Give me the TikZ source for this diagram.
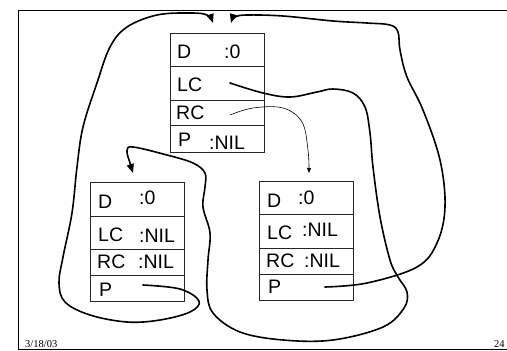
\documentclass[tikz,border=0pt]{standalone}
\usepackage{fontspec}
\setmainfont{Liberation Sans}
\newfontfamily\footfont{Liberation Serif}
\usetikzlibrary{arrows.meta,positioning}
\tikzset{
  field/.style={rectangle,draw=black!85,line width=0.8pt,minimum width=94pt,inner sep=0pt,anchor=north west},
  flabel/.style={anchor=base west,inner sep=0pt,font=\fontsize{19.5}{22}\selectfont},
  link/.style={-{Triangle[length=9pt,width=7pt]},line width=1.6pt,line cap=round,line join=round},
  thinlink/.style={-{Triangle[length=5pt,width=4pt]},line width=0.6pt},
  footnote/.style={anchor=base west,inner sep=0pt,font=\footfont\fontsize{10.5}{12}\selectfont}
}

\begin{document}
\begin{tikzpicture}[x=1pt,y=-1pt]
        \useasboundingbox (0,0) rectangle (507,351);
        % frame
        \draw[line width=1pt] (507,10) -- (18,10) -- (18,349) -- (507,349);
        % root record
        \node[field,minimum height=33pt] (rootD) at (170,33) {};
        \node[field,minimum height=34pt] (rootLC) at (170,66) {};
        \node[field,minimum height=25pt] (rootRC) at (170,100) {};
        \node[field,minimum height=27pt] (rootP) at (170,125) {};
        \node[flabel] at (177,58) {D};
        \node[flabel] at (224,58) {:0};
        \node[flabel] at (177,91) {LC};
        \node[flabel] at (176,119) {RC};
        \node[flabel] at (178,146) {P};
        \node[flabel] at (209,149) {:NIL};
        % left record
        \node[field,minimum height=34pt] (leftD) at (90,182) {};
        \node[field,minimum height=33pt] (leftLC) at (90,216) {};
        \node[field,minimum height=26pt] (leftRC) at (90,249) {};
        \node[field,minimum height=26pt] (leftP) at (90,275) {};
        \node[flabel] at (98,208) {D};
        \node[flabel] at (139,204) {:0};
        \node[flabel] at (98,241) {LC};
        \node[flabel] at (139,242) {:NIL};
        \node[flabel] at (97,268) {RC};
        \node[flabel] at (138,268) {:NIL};
        \node[flabel] at (99,296) {P};
        % right record
        \node[field,minimum height=33pt] (rightD) at (259,181) {};
        \node[field,minimum height=34pt] (rightLC) at (259,214) {};
        \node[field,minimum height=26pt] (rightRC) at (259,248) {};
        \node[field,minimum height=26pt] (rightP) at (259,274) {};
        \node[flabel] at (267,207) {D};
        \node[flabel] at (298,204) {:0};
        \node[flabel] at (267,239) {LC};
        \node[flabel] at (302,236) {:NIL};
        \node[flabel] at (266,267) {RC};
        \node[flabel] at (304,267) {:NIL};
        \node[flabel] at (268,293) {P};
        % pointer ends
        \coordinate (rootLCptr) at (230,83);
        \coordinate (rootRCptr) at (230,115);
        \coordinate (leftPptr) at (143,285);
        \coordinate (rightPptr) at (325,287);
        \coordinate (rootInL) at (213,23);
        \coordinate (rootInR) at (231,23);
        \coordinate (leftIn) at (133,173);
        \coordinate (rightIn) at (309,173);
        % pointers
        \draw[link] plot[smooth,tension=0.6] coordinates {(leftPptr) (180,289) (199,301) (190,312) (160,320) (127,322) (90,315) (65,302) (59,283) (63,257) (72,213) (77,167) (83,127) (97,83) (110,47) (127,27) (157,15) (190,13) (207,15) (rootInL)};
        \draw[link] plot[smooth,tension=0.6] coordinates {(rightPptr) (367,283) (417,267) (437,243) (445,207) (440,160) (423,110) (407,77) (400,50) (398,32) (390,25) (367,23) (333,21) (283,16) (247,15) (235,17) (rootInR)};
        \draw[link] plot[smooth,tension=0.6] coordinates {(rootLCptr) (263,93) (290,97) (317,92) (333,89) (353,93) (365,107) (370,133) (373,167) (380,217) (390,260) (398,277) (407,292) (404,308) (383,327) (333,340) (283,340) (240,332) (213,313) (207,290) (208,260) (210,233) (203,207) (205,187) (205,173) (193,163) (167,155) (133,147) (127,151) (130,163) (leftIn)};
        \draw[thinlink] plot[smooth,tension=0.6] coordinates {(rootRCptr) (253,108) (283,108) (302,122) (308,150) (rightIn)};
        % footer
        \node[footnote] (date) at (25,347) {3/18/03};
        \node[footnote] (page) at (494,347) {24};
      \end{tikzpicture}
\end{document}
